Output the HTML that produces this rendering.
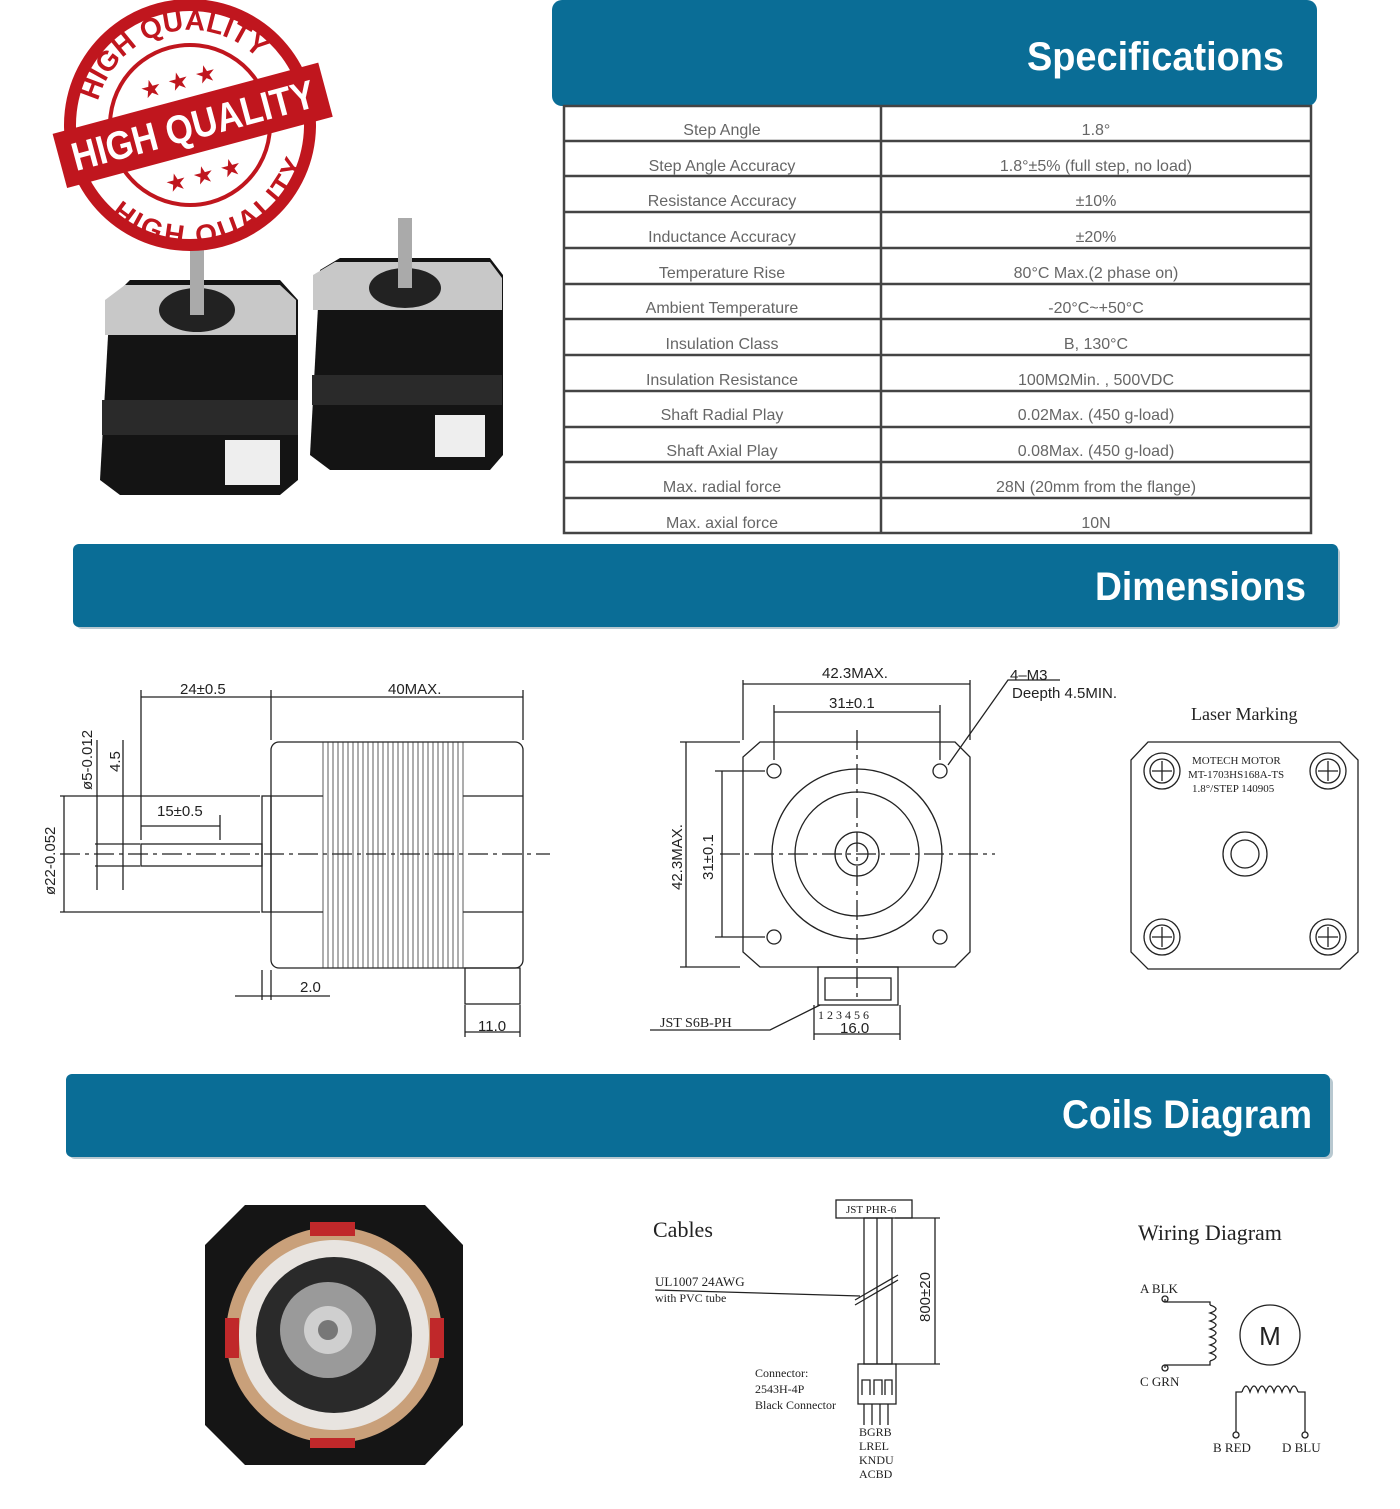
<!DOCTYPE html>
<html><head><meta charset="utf-8"><style>
html,body{margin:0;padding:0;background:#fff;}
svg{display:block;}
text{font-family:"Liberation Sans",sans-serif;}
.th{font-size:16px;fill:#666;text-anchor:middle;}
.hd{font-size:40px;font-weight:bold;fill:#fff;}
.d{stroke:#222;stroke-width:1.3;fill:none;}
.dt{font-size:15px;fill:#222;}
.sf{font-family:"Liberation Serif",serif;fill:#222;}
</style></head><body>
<svg width="1400" height="1509" viewBox="0 0 1400 1509" xmlns="http://www.w3.org/2000/svg">
<defs>
<path id="arcTop" d="M95 125 A95 95 0 0 1 285 125"/>
<path id="arcBot" d="M90 125 A100 100 0 0 0 290 125"/>
</defs>
<!-- header bars -->
<rect x="552" y="0" width="765" height="106" rx="10" fill="#0a6d96"/>
<text class="hd" x="1027" y="70" textLength="257" lengthAdjust="spacingAndGlyphs">Specifications</text>
<rect x="76" y="547" width="1264" height="82" rx="6" fill="#b8c8d0"/>
<rect x="73" y="544" width="1265" height="83" rx="6" fill="#0a6d96"/>
<text class="hd" x="1095" y="600" textLength="211" lengthAdjust="spacingAndGlyphs">Dimensions</text>
<rect x="69" y="1077" width="1264" height="82" rx="6" fill="#b8c8d0"/>
<rect x="66" y="1074" width="1264" height="83" rx="6" fill="#0a6d96"/>
<text class="hd" x="1062" y="1128" textLength="250" lengthAdjust="spacingAndGlyphs">Coils Diagram</text>

<!-- table -->
<g stroke="#444" stroke-width="2.5" fill="none">
<rect x="564" y="106" width="747" height="427"/>
<line x1="881" y1="106" x2="881" y2="533"/>
<line x1="564" y1="141" x2="1311" y2="141"/><line x1="564" y1="176" x2="1311" y2="176"/>
<line x1="564" y1="212" x2="1311" y2="212"/><line x1="564" y1="248" x2="1311" y2="248"/>
<line x1="564" y1="284" x2="1311" y2="284"/><line x1="564" y1="319" x2="1311" y2="319"/>
<line x1="564" y1="355" x2="1311" y2="355"/><line x1="564" y1="391" x2="1311" y2="391"/>
<line x1="564" y1="427" x2="1311" y2="427"/><line x1="564" y1="462" x2="1311" y2="462"/>
<line x1="564" y1="498" x2="1311" y2="498"/>
</g>
<g class="th">
<text x="722" y="135">Step Angle</text><text x="1096" y="135">1.8°</text>
<text x="722" y="171">Step Angle Accuracy</text><text x="1096" y="171">1.8°±5% (full step, no load)</text>
<text x="722" y="206">Resistance Accuracy</text><text x="1096" y="206">±10%</text>
<text x="722" y="242">Inductance Accuracy</text><text x="1096" y="242">±20%</text>
<text x="722" y="278">Temperature Rise</text><text x="1096" y="278">80°C Max.(2 phase on)</text>
<text x="722" y="313">Ambient Temperature</text><text x="1096" y="313">-20°C~+50°C</text>
<text x="722" y="349">Insulation Class</text><text x="1096" y="349">B, 130°C</text>
<text x="722" y="385">Insulation Resistance</text><text x="1096" y="385">100MΩMin. , 500VDC</text>
<text x="722" y="420">Shaft Radial Play</text><text x="1096" y="420">0.02Max. (450 g-load)</text>
<text x="722" y="456">Shaft Axial Play</text><text x="1096" y="456">0.08Max. (450 g-load)</text>
<text x="722" y="492">Max. radial force</text><text x="1096" y="492">28N  (20mm from the flange)</text>
<text x="722" y="528">Max. axial force</text><text x="1096" y="528">10N</text>
</g>

<!-- motors photo -->
<g>
<path d="M110 300 L130 280 L280 280 L298 300 L298 480 L280 495 L120 495 L100 480 Z" fill="#141414"/>
<path d="M105 300 L125 285 L280 285 L296 300 L296 335 L105 335 Z" fill="#c8c8c8"/>
<rect x="102" y="400" width="196" height="35" fill="#2a2a2a"/>
<ellipse cx="197" cy="310" rx="38" ry="22" fill="#222"/>
<rect x="190" y="245" width="14" height="70" fill="#aaa"/>
<rect x="225" y="440" width="55" height="45" fill="#eee"/>
<path d="M320 270 L340 258 L490 258 L503 275 L503 455 L490 470 L330 470 L310 455 Z" fill="#141414"/>
<path d="M313 275 L335 262 L490 262 L502 278 L502 310 L313 310 Z" fill="#c8c8c8"/>
<rect x="312" y="375" width="190" height="30" fill="#2a2a2a"/>
<ellipse cx="405" cy="288" rx="36" ry="20" fill="#222"/>
<rect x="398" y="218" width="14" height="70" fill="#aaa"/>
<rect x="435" y="415" width="50" height="42" fill="#eee"/>
</g>
<!-- stamp -->
<g transform="rotate(-15 190 125)">
<circle cx="190" cy="125" r="120" fill="#fff" stroke="#c0161e" stroke-width="12"/>
<circle cx="190" cy="125" r="80" fill="none" stroke="#c0161e" stroke-width="4"/>
<text font-size="28" font-weight="bold" fill="#c0161e" text-anchor="middle"><textPath href="#arcTop" startOffset="50%">HIGH QUALITY</textPath></text>
<text font-size="28" font-weight="bold" fill="#c0161e" text-anchor="middle" dominant-baseline="hanging"><textPath href="#arcBot" startOffset="50%">HIGH QUALITY</textPath></text>
<rect x="55" y="98" width="275" height="56" fill="#c0161e"/>
<text x="68" y="140" font-size="40" font-weight="bold" fill="#fff" textLength="250" lengthAdjust="spacingAndGlyphs">HIGH QUALITY</text>
<text x="190" y="88" font-size="24" fill="#c0161e" text-anchor="middle">★ ★ ★</text>
<text x="190" y="185" font-size="24" fill="#c0161e" text-anchor="middle">★ ★ ★</text>
</g>

<!-- side view drawing -->
<g class="d">
<rect x="271" y="742" width="252" height="226" rx="8"/>
<rect x="262" y="796" width="9" height="116"/>
<rect x="141" y="844" width="121" height="22"/>
<line x1="60" y1="854" x2="550" y2="854" stroke-dasharray="20 5 4 5"/>
<line x1="271" y1="796" x2="323" y2="796"/><line x1="271" y1="912" x2="323" y2="912"/>
<line x1="463" y1="796" x2="523" y2="796"/><line x1="463" y1="912" x2="523" y2="912"/>
<rect x="465" y="968" width="55" height="36"/>
<line x1="141" y1="690" x2="141" y2="840"/><line x1="271" y1="690" x2="271" y2="740"/><line x1="523" y1="690" x2="523" y2="740"/>
<line x1="141" y1="697" x2="523" y2="697"/>
<line x1="60" y1="796" x2="260" y2="796"/><line x1="60" y1="912" x2="260" y2="912"/><line x1="64" y1="796" x2="64" y2="912"/>
<line x1="95" y1="844" x2="140" y2="844"/><line x1="95" y1="866" x2="140" y2="866"/><line x1="97" y1="740" x2="97" y2="890"/>
<line x1="123" y1="740" x2="123" y2="890"/>
<line x1="141" y1="826" x2="220" y2="826"/><line x1="220" y1="815" x2="220" y2="840"/>
<line x1="235" y1="996" x2="330" y2="996"/><line x1="262" y1="970" x2="262" y2="1000"/><line x1="271" y1="970" x2="271" y2="1000"/>
<line x1="465" y1="1005" x2="465" y2="1037"/><line x1="520" y1="1005" x2="520" y2="1037"/><line x1="465" y1="1032" x2="520" y2="1032"/>
</g>
<g stroke="#333" stroke-width="0.8">
<path d="M323 742 V968 M328 742 V968 M333 742 V968 M338 742 V968 M343 742 V968 M348 742 V968 M353 742 V968 M358 742 V968 M363 742 V968 M368 742 V968 M373 742 V968 M378 742 V968 M383 742 V968 M388 742 V968 M393 742 V968 M398 742 V968 M403 742 V968 M408 742 V968 M413 742 V968 M418 742 V968 M423 742 V968 M428 742 V968 M433 742 V968 M438 742 V968 M443 742 V968 M448 742 V968 M453 742 V968 M458 742 V968 M463 742 V968"/>
</g>
<text class="dt" x="180" y="694">24±0.5</text>
<text class="dt" x="388" y="694">40MAX.</text>
<text class="dt" x="157" y="816">15±0.5</text>
<text class="dt" x="300" y="992">2.0</text>
<text class="dt" x="478" y="1031">11.0</text>
<text class="dt" transform="translate(120 772) rotate(-90)">4.5</text>
<text class="dt" font-size="13" transform="translate(92 790) rotate(-90)">ø5-0.012</text>
<text class="dt" font-size="13" transform="translate(55 895) rotate(-90)">ø22-0.052</text>

<!-- front view -->
<g class="d">
<path d="M760 742 H955 L970 757 V952 L955 967 H760 L743 952 V757 Z"/>
<circle cx="857" cy="854" r="85"/><circle cx="857" cy="854" r="62"/>
<circle cx="857" cy="854" r="22"/><circle cx="857" cy="854" r="11"/>
<circle cx="774" cy="771" r="7"/><circle cx="940" cy="771" r="7"/><circle cx="774" cy="937" r="7"/><circle cx="940" cy="937" r="7"/>
<line x1="720" y1="854" x2="995" y2="854" stroke-dasharray="20 5 4 5"/>
<line x1="857" y1="730" x2="857" y2="1000" stroke-dasharray="20 5 4 5"/>
<line x1="743" y1="680" x2="743" y2="740"/><line x1="970" y1="680" x2="970" y2="740"/><line x1="743" y1="684" x2="970" y2="684"/>
<line x1="774" y1="705" x2="774" y2="760"/><line x1="940" y1="705" x2="940" y2="760"/><line x1="774" y1="712" x2="940" y2="712"/>
<line x1="680" y1="742" x2="740" y2="742"/><line x1="680" y1="967" x2="740" y2="967"/><line x1="686" y1="742" x2="686" y2="967"/>
<line x1="715" y1="771" x2="765" y2="771"/><line x1="715" y1="937" x2="765" y2="937"/><line x1="722" y1="771" x2="722" y2="937"/>
<polyline points="1060,680 1008,680 948,765"/>
<rect x="818" y="967" width="80" height="38"/>
<rect x="825" y="978" width="66" height="22"/>
<line x1="814" y1="1005" x2="814" y2="1040"/><line x1="900" y1="1005" x2="900" y2="1040"/><line x1="814" y1="1034" x2="900" y2="1034"/>
<polyline points="650,1030 770,1030 820,1005"/>
</g>
<text class="dt" x="822" y="678">42.3MAX.</text>
<text class="dt" x="829" y="708">31±0.1</text>
<text class="dt" x="1010" y="680">4–M3</text>
<text class="dt" x="1012" y="698">Deepth  4.5MIN.</text>
<text class="dt" transform="translate(682 890) rotate(-90)">42.3MAX.</text>
<text class="dt" transform="translate(713 880) rotate(-90)">31±0.1</text>
<text class="sf" x="660" y="1027" font-size="14">JST S6B-PH</text>
<text class="sf" x="818" y="1019" font-size="12">1 2 3 4 5 6</text>
<text class="dt" x="840" y="1033">16.0</text>

<!-- laser marking -->
<text class="sf" x="1191" y="720" font-size="18">Laser Marking</text>
<g class="d">
<path d="M1148 742 H1340 L1358 760 V952 L1340 969 H1148 L1131 952 V760 Z"/>
<circle cx="1245" cy="854" r="22"/><circle cx="1245" cy="854" r="14"/>
<circle cx="1162" cy="771" r="18"/><circle cx="1328" cy="771" r="18"/><circle cx="1162" cy="937" r="18"/><circle cx="1328" cy="937" r="18"/>
<circle cx="1162" cy="771" r="12"/><circle cx="1328" cy="771" r="12"/><circle cx="1162" cy="937" r="12"/><circle cx="1328" cy="937" r="12"/>
<path d="M1152 771h20M1162 761v20M1318 771h20M1328 761v20M1152 937h20M1162 927v20M1318 937h20M1328 927v20"/>
</g>
<text class="sf" x="1192" y="764" font-size="11">MOTECH  MOTOR</text>
<text class="sf" x="1188" y="778" font-size="11">MT-1703HS168A-TS</text>
<text class="sf" x="1192" y="792" font-size="11">1.8°/STEP    140905</text>

<!-- coils photo -->
<path d="M245 1205 H425 L463 1245 V1425 L425 1465 H245 L205 1425 V1245 Z" fill="#151515"/>
<circle cx="334" cy="1335" r="108" fill="#c9a07a"/>
<circle cx="334" cy="1335" r="95" fill="#e8e4e0"/>
<circle cx="334" cy="1335" r="78" fill="#2a2a2a"/>
<circle cx="328" cy="1330" r="48" fill="#9a9a9a"/>
<circle cx="328" cy="1330" r="24" fill="#cfcfcf"/>
<circle cx="328" cy="1330" r="10" fill="#777"/>
<g fill="#c0282a"><rect x="310" y="1222" width="45" height="14"/><rect x="225" y="1318" width="14" height="40"/><rect x="430" y="1318" width="14" height="40"/><rect x="310" y="1438" width="45" height="10"/></g>

<!-- cables -->
<text class="sf" x="653" y="1237" font-size="22">Cables</text>
<text class="sf" x="655" y="1286" font-size="13">UL1007 24AWG</text>
<text class="sf" x="655" y="1302" font-size="12">with PVC tube</text>
<g class="d">
<rect x="836" y="1200" width="76" height="18"/>
<rect x="864" y="1218" width="28" height="146"/>
<line x1="877" y1="1218" x2="877" y2="1364"/>
<polyline points="655,1290 860,1296"/>
<line x1="855" y1="1300" x2="898" y2="1275"/><line x1="855" y1="1305" x2="898" y2="1280"/>
<line x1="895" y1="1218" x2="940" y2="1218"/><line x1="895" y1="1364" x2="940" y2="1364"/><line x1="935" y1="1218" x2="935" y2="1364"/>
<rect x="858" y="1364" width="38" height="40"/>
<path d="M862 1395 V1380 H870 V1395 M874 1395 V1380 H882 V1395 M885 1395 V1380 H892 V1395"/>
<path d="M864 1404 V1425 M872 1404 V1425 M880 1404 V1425 M888 1404 V1425"/>
</g>
<text class="sf" x="846" y="1213" font-size="11">JST PHR-6</text>
<text class="dt" transform="translate(930 1322) rotate(-90)">800±20</text>
<text class="sf" x="755" y="1377" font-size="12">Connector:</text>
<text class="sf" x="755" y="1393" font-size="12">2543H-4P</text>
<text class="sf" x="755" y="1409" font-size="12">Black Connector</text>
<text class="sf" x="859" y="1436" font-size="12">BGRB</text>
<text class="sf" x="859" y="1450" font-size="12">LREL</text>
<text class="sf" x="859" y="1464" font-size="12">KNDU</text>
<text class="sf" x="859" y="1478" font-size="12">ACBD</text>

<!-- wiring -->
<text class="sf" x="1138" y="1240" font-size="22">Wiring Diagram</text>
<text class="sf" x="1140" y="1293" font-size="13">A BLK</text>
<text class="sf" x="1140" y="1386" font-size="13">C GRN</text>
<text class="sf" x="1213" y="1452" font-size="13">B RED</text>
<text class="sf" x="1282" y="1452" font-size="13">D BLU</text>
<g class="d">
<circle cx="1165" cy="1299" r="3"/><circle cx="1165" cy="1368" r="3"/>
<polyline points="1165,1299 1165,1302 1210,1302 1210,1305"/>
<path d="M1210 1305 q12 4 0 8 q12 4 0 8 q12 4 0 8 q12 4 0 8 q12 4 0 8 q12 4 0 8 q12 4 0 8"/>
<polyline points="1210,1361 1210,1365 1165,1365 1165,1368"/>
<circle cx="1270" cy="1335" r="30"/>
<circle cx="1236" cy="1435" r="3"/><circle cx="1305" cy="1435" r="3"/>
<polyline points="1236,1432 1236,1392 1242,1392"/>
<path d="M1242 1392 q4 -12 8 0 q4 -12 8 0 q4 -12 8 0 q4 -12 8 0 q4 -12 8 0 q4 -12 8 0 q4 -12 8 0"/>
<polyline points="1298,1392 1305,1392 1305,1432"/>
</g>
<text x="1270" y="1345" font-size="26" fill="#222" text-anchor="middle">M</text>
</svg>
</body></html>
